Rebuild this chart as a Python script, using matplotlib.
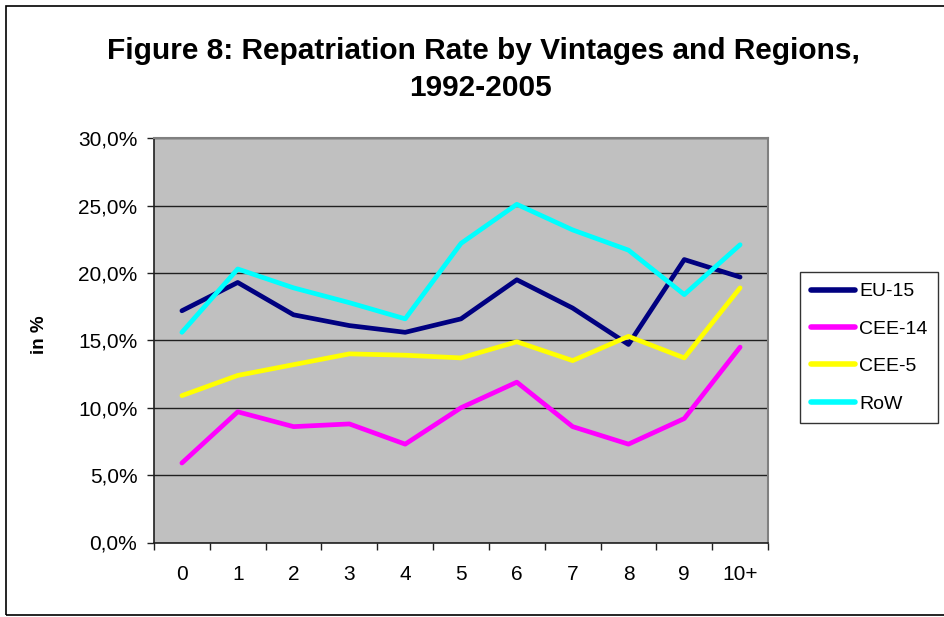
import matplotlib
matplotlib.use("Agg")
import matplotlib.pyplot as plt
import numpy as np

plt.rcParams['font.family'] = ['Liberation Sans', 'DejaVu Sans']

categories = ["0", "1", "2", "3", "4", "5", "6", "7", "8", "9", "10+"]
eu15 = [17.2, 19.3, 16.9, 16.1, 15.6, 16.6, 19.5, 17.4, 14.7, 21.0, 19.7]
cee14 = [5.9, 9.7, 8.6, 8.8, 7.3, 10.0, 11.9, 8.6, 7.3, 9.2, 14.5]
cee5 = [10.9, 12.4, 13.2, 14.0, 13.9, 13.7, 14.9, 13.5, 15.3, 13.7, 18.9]
row = [15.6, 20.3, 18.9, 17.8, 16.6, 22.2, 25.1, 23.2, 21.7, 18.4, 22.1]
yticks = [0, 5, 10, 15, 20, 25, 30]
ytick_labels = ["0,0%", "5,0%", "10,0%", "15,0%", "20,0%", "25,0%", "30,0%"]

fig = plt.figure(figsize=(9.45, 6.17), dpi=100)
ax = fig.add_axes([154/945, 1-542.5/617, (768-154)/945, (542.5-138.3)/617])
ax.set_facecolor('#C0C0C0')

x = np.arange(len(categories))
series = [("EU-15", eu15, '#000080'), ("CEE-14", cee14, '#FF00FF'),
          ("CEE-5", cee5, '#FFFF00'), ("RoW", row, '#00FFFF')]
for name, vals, col in series:
    ax.plot(x, vals, color=col, lw=3.4, label=name, solid_capstyle='round', solid_joinstyle='round', zorder=3)

ax.set_xlim(-0.5, len(categories) - 0.5)
ax.set_ylim(0, 30)
ax.set_yticks(yticks)
ax.set_yticklabels(ytick_labels, fontsize=15)
ax.yaxis.grid(True, color='#202020', lw=1)
ax.set_axisbelow(True)

ax.set_xticks(np.arange(-0.5, len(categories), 1.0))
ax.set_xticklabels([])
ax.set_xticks(x, minor=True)
ax.set_xticklabels(categories, minor=True, fontsize=15)
ax.tick_params(axis='x', which='minor', length=0, pad=16)
ax.tick_params(axis='both', which='major', length=5, width=1, color='#202020', direction='out')
ax.tick_params(axis='y', pad=7)

for s in ['top', 'right']:
    ax.spines[s].set_color('#808080')
    ax.spines[s].set_linewidth(1.5)
for s in ['left', 'bottom']:
    ax.spines[s].set_color('#202020')
    ax.spines[s].set_linewidth(1.2)

ax.set_ylabel("in %", fontsize=13.5, fontweight='bold')
ax.yaxis.set_label_coords((48 - 154) / (768 - 154), 0.513)

fig.text(483/945, 1-51/617, "Figure 8: Repatriation Rate by Vintages and Regions,",
         ha='center', va='center', fontsize=21.5, fontweight='bold')
fig.text(481/945, 1-88/617, "1992-2005", ha='center', va='center', fontsize=21.5, fontweight='bold')

leg = fig.legend(loc='upper left', bbox_to_anchor=(800/945, 1-272/617), fontsize=14,
                 frameon=True, fancybox=False, shadow=False, handlelength=2.3,
                 handletextpad=0.2, labelspacing=1.02, borderpad=0.55, borderaxespad=0)
leg.get_frame().set_edgecolor('black')
leg.get_frame().set_linewidth(1)
for h in leg.get_lines():
    h.set_linewidth(4)
    h.set_solid_capstyle('round')

# outer chart border
fig.add_artist(plt.Rectangle((6/945, 1-615/617), 1.2, (615-6)/617, transform=fig.transFigure,
                             fill=False, edgecolor='black', lw=1.2))

fig.savefig("out.png", dpi=100)
